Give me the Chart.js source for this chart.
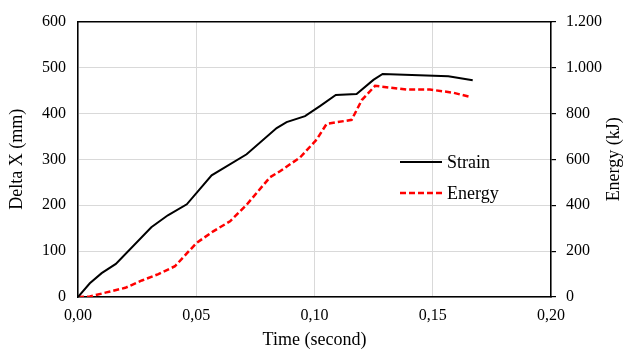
<!DOCTYPE html>
<html>
<head>
<meta charset="utf-8">
<script src="https://cdn.jsdelivr.net/npm/chart.js@4.4.0/dist/chart.umd.min.js"></script>
<style>
html,body{margin:0;padding:0;background:#fff;}
#wrap{width:623px;height:350px;position:relative;}
</style>
</head>
<body>
<div id="wrap"><canvas id="c" width="623" height="350"></canvas></div>
<script>
const strainTime   = [0, 0.005, 0.010, 0.016, 0.031, 0.038, 0.046, 0.0565, 0.0713, 0.084, 0.0882, 0.096, 0.1023, 0.109, 0.1178, 0.1249, 0.1288, 0.1566, 0.1669];
const strainValues = [0, 30, 52, 72, 152, 178, 202, 265, 311, 368, 381, 394, 416, 440, 442, 473, 486, 481, 472];
const energyTime   = [0, 0.005, 0.012, 0.020, 0.027, 0.034, 0.041, 0.046, 0.0502, 0.057, 0.0643, 0.0713, 0.0812, 0.0854, 0.0939, 0.1009, 0.1051, 0.1157, 0.120, 0.1256, 0.139, 0.1488, 0.1587, 0.1657];
const energyValues = [0, 2, 20, 40, 72, 100, 134, 190, 236, 285, 330, 402, 522, 548, 608, 686, 754, 772, 858, 920, 904, 904, 890, 872];
const xTicks = [0, 0.05, 0.10, 0.15, 0.20];
const leftTicks = [0, 100, 200, 300, 400, 500, 600];
const rightTicks = [0, 200, 400, 600, 800, 1000, 1200];
const seriesNames = ['Strain', 'Energy'];
const axisTitles = {x: 'Time (second)', y: 'Delta X (mm)', y2: 'Energy (kJ)'};

const FONT = "'Liberation Serif', 'Times New Roman', serif";
const pts = (xs, ys) => xs.map((x, i) => ({x: x, y: ys[i]}));
const fmtThousands = v => {
  const s = String(Math.round(v));
  return s.replace(/\B(?=(\d{3})+(?!\d))/g, '.');
};

const customDraw = {
  id: 'customDraw',
  afterDraw(chart) {
    const ctx = chart.ctx;
    const area = chart.chartArea;
    // right axis title, rotated reading upward
    ctx.save();
    ctx.font = "18px " + FONT;
    ctx.fillStyle = '#000';
    ctx.textAlign = 'center';
    ctx.textBaseline = 'middle';
    ctx.translate(614, (area.top + area.bottom) / 2);
    ctx.rotate(-Math.PI / 2);
    ctx.fillText(chart.options.scales.y2.title.text, 0, 0);
    ctx.restore();
    // legend inside plot
    const items = chart.data.datasets;
    const lx0 = 400, lx1 = 442, tx = 447;
    const ys = [162, 193];
    ctx.save();
    ctx.font = "18px " + FONT;
    ctx.textBaseline = 'middle';
    ctx.textAlign = 'left';
    items.forEach((ds, i) => {
      ctx.beginPath();
      ctx.strokeStyle = ds.borderColor;
      ctx.lineWidth = ds.borderWidth;
      ctx.setLineDash(ds.borderDash || []);
      ctx.moveTo(lx0, ys[i]);
      ctx.lineTo(lx1, ys[i]);
      ctx.stroke();
      ctx.setLineDash([]);
      ctx.fillStyle = '#000';
      ctx.fillText(ds.label, tx, ys[i] + 1);
    });
    ctx.restore();
  }
};

new Chart(document.getElementById('c'), {
  type: 'line',
  data: {
    datasets: [
      {
        label: seriesNames[0],
        data: pts(strainTime, strainValues),
        yAxisID: 'y',
        borderColor: '#000000',
        borderWidth: 2,
        pointRadius: 0,
        tension: 0,
        fill: false
      },
      {
        label: seriesNames[1],
        data: pts(energyTime, energyValues),
        yAxisID: 'y2',
        borderColor: '#ff0000',
        borderWidth: 2.5,
        borderDash: [6, 3],
        pointRadius: 0,
        tension: 0,
        fill: false
      }
    ]
  },
  options: {
    responsive: false,
    animation: false,
    layout: {padding: {top: 17, right: 0, left: 0, bottom: 0}},
    plugins: {legend: {display: false}, tooltip: {enabled: false}},
    scales: {
      x: {
        type: 'linear',
        position: 'bottom',
        min: 0, max: 0.2,
        afterBuildTicks: s => { s.ticks = xTicks.map(v => ({value: v})); },
        afterFit: s => { s.height = 53; },
        ticks: {
          color: '#000', font: {family: FONT, size: 16}, padding: 9,
          callback: v => Number(v).toFixed(2).replace('.', ',')
        },
        grid: {color: '#d9d9d9', lineWidth: 1, tickLength: 0},
        border: {color: '#000', width: 1.5},
        title: {display: true, text: axisTitles.x, color: '#000', font: {family: FONT, size: 18, lineHeight: 1.1}, padding: {top: 0, bottom: 0}}
      },
      xTop: {
        type: 'linear',
        position: 'top',
        min: 0, max: 0.2,
        afterFit: s => { s.height = 0; },
        ticks: {display: false},
        grid: {drawOnChartArea: false, tickLength: 0},
        border: {color: '#000', width: 1.5}
      },
      y: {
        type: 'linear',
        position: 'left',
        min: 0, max: 600,
        afterBuildTicks: s => { s.ticks = leftTicks.map(v => ({value: v})); },
        afterFit: s => { s.width = 78; },
        ticks: {color: '#000', font: {family: FONT, size: 16}, padding: 12},
        grid: {color: '#d9d9d9', lineWidth: 1, tickLength: 0},
        border: {color: '#000', width: 1.5},
        title: {display: true, text: axisTitles.y, color: '#000', font: {family: FONT, size: 18}, padding: {top: 6, bottom: 0}}
      },
      y2: {
        type: 'linear',
        position: 'right',
        min: 0, max: 1200,
        afterBuildTicks: s => { s.ticks = rightTicks.map(v => ({value: v})); },
        afterFit: s => { s.width = 72; },
        ticks: {color: '#000', font: {family: FONT, size: 16}, padding: 10, callback: v => fmtThousands(v)},
        grid: {drawOnChartArea: false, color: '#000', lineWidth: 1.2, tickLength: 5},
        border: {color: '#000', width: 1.5},
        title: {display: false, text: axisTitles.y2}
      }
    }
  },
  plugins: [customDraw]
});
</script>
</body>
</html>
